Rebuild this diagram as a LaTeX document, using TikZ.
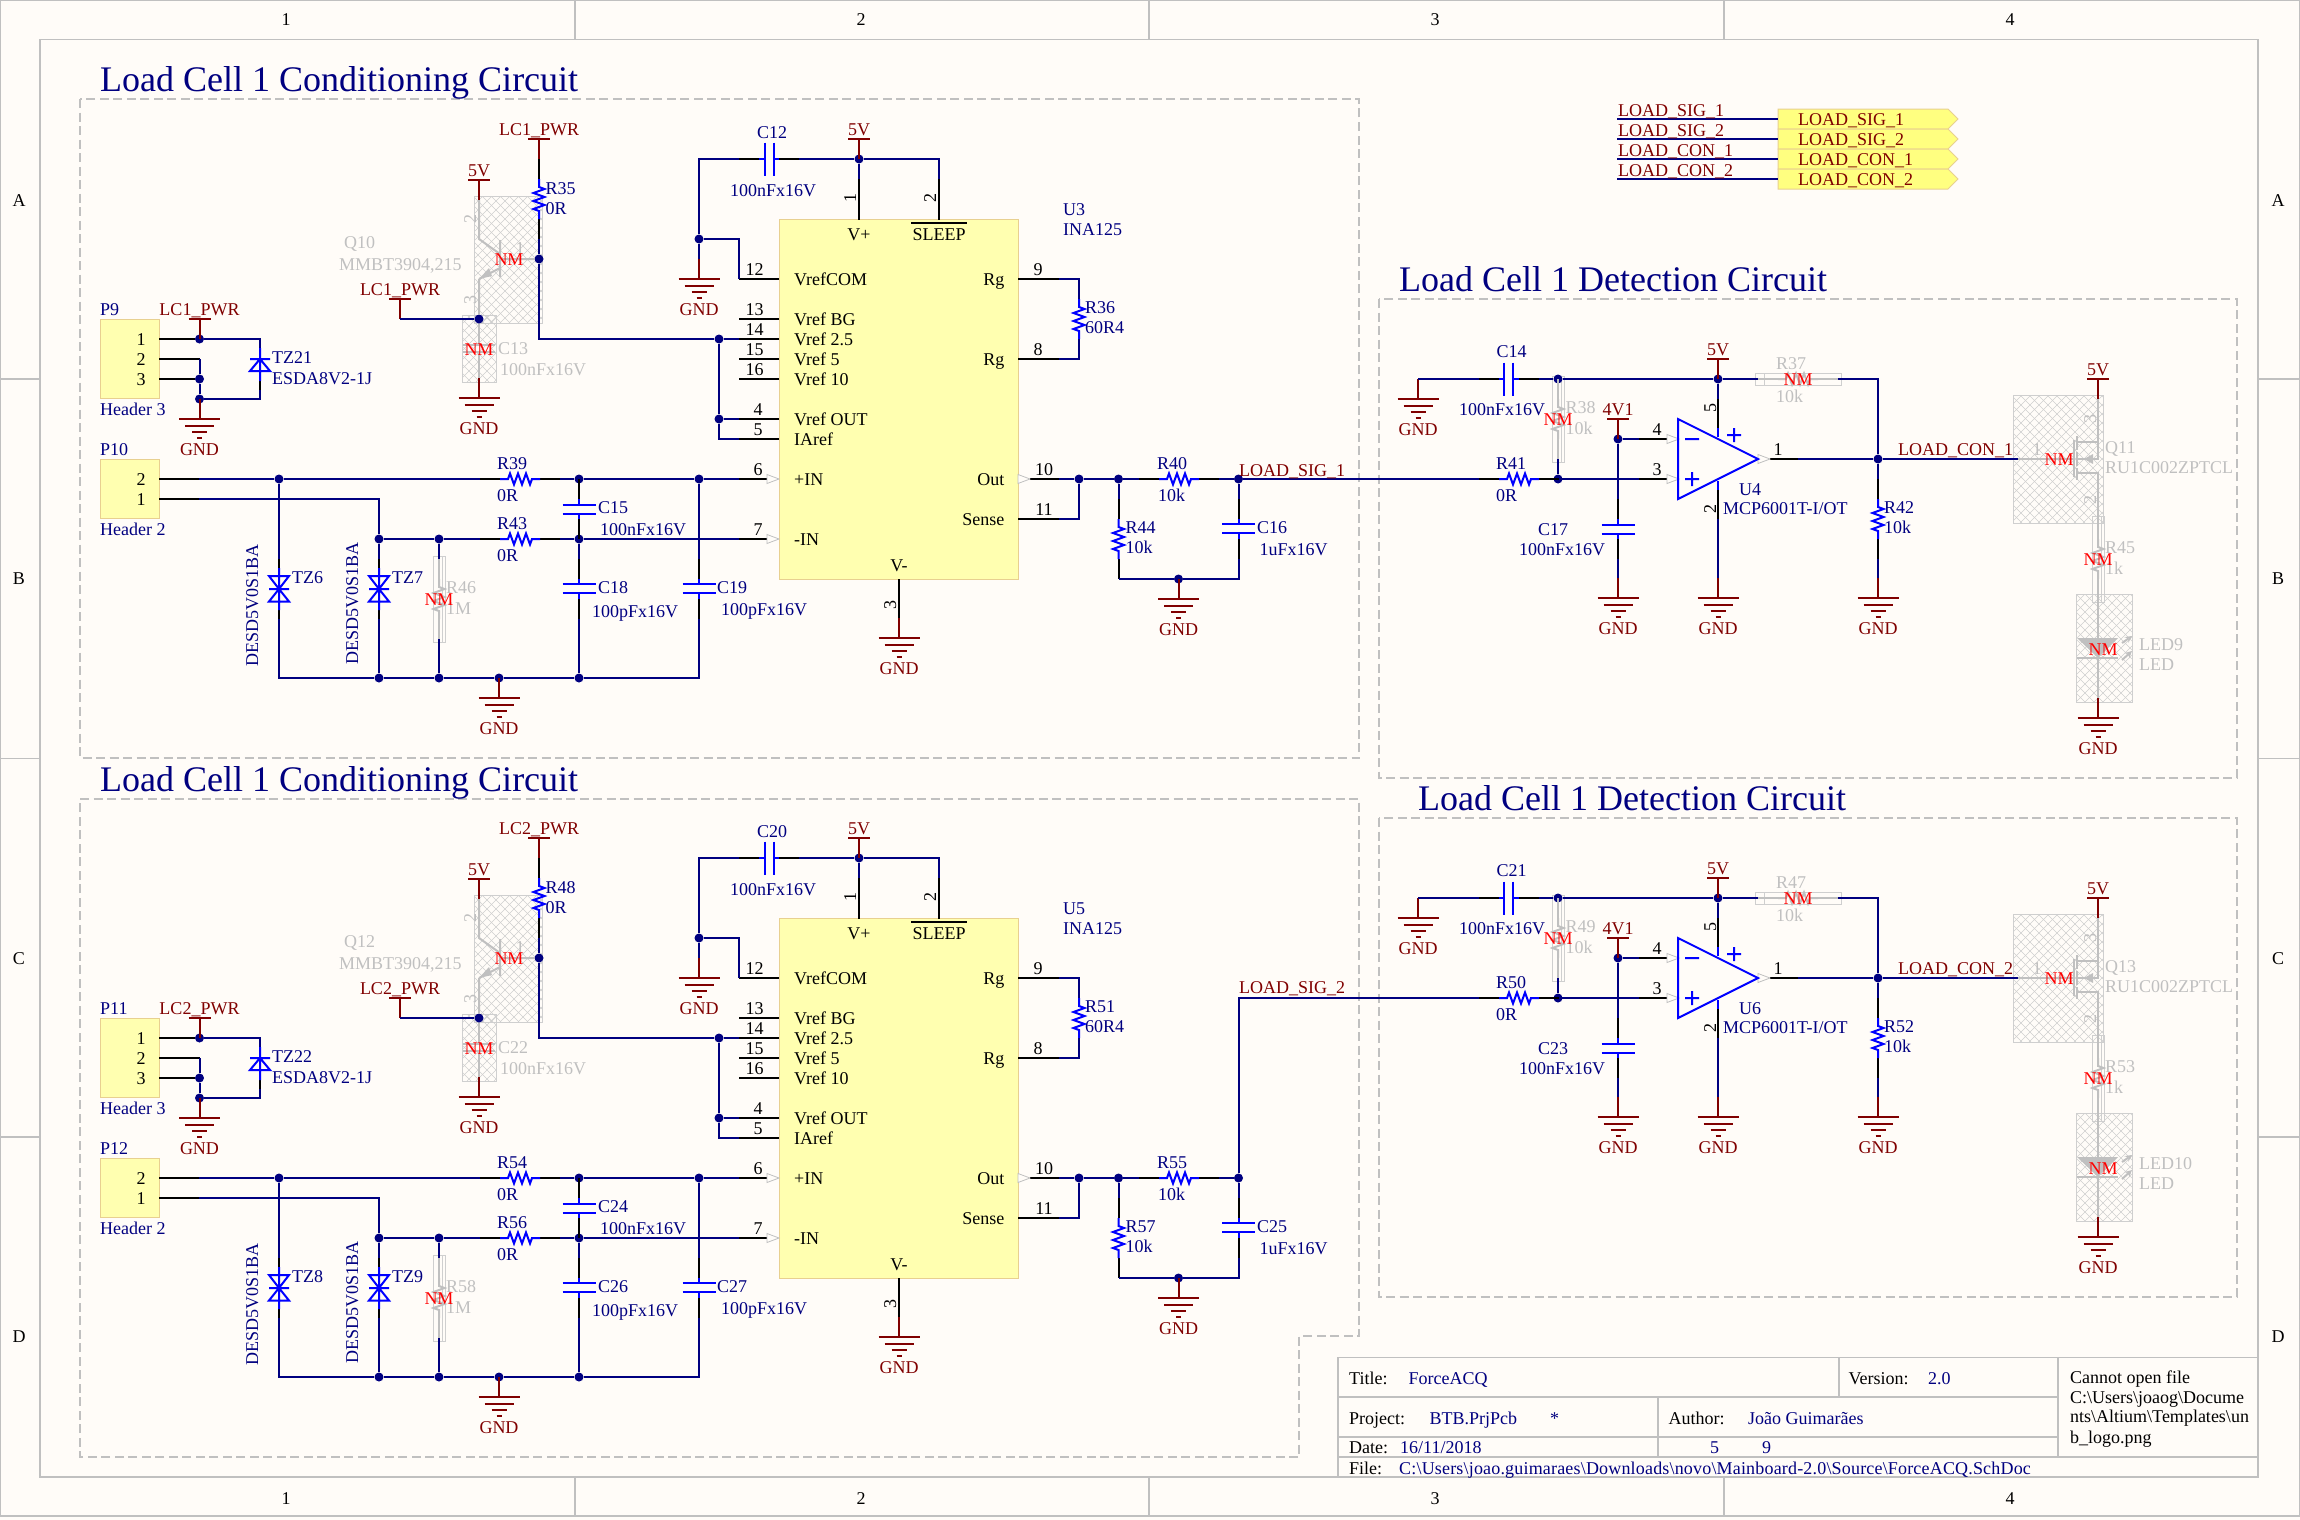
\documentclass[tikz,border=0pt]{standalone}
\usepackage{fontspec}
\setmainfont{Liberation Serif}
\pgfdeclarelayer{hatchlayer}
\pgfsetlayers{hatchlayer,main}
\definecolor{bgc}{HTML}{FFFCF8}
\definecolor{navyw}{HTML}{000080}
\definecolor{dred}{HTML}{800000}
\definecolor{blu}{HTML}{0000FF}
\definecolor{grl}{HTML}{C0C0C0}
\definecolor{hat}{HTML}{CFCFCF}
\definecolor{icf}{HTML}{FFFFB0}
\definecolor{ice}{HTML}{E8D090}
\definecolor{ptf}{HTML}{FFFF80}
\tikzset{
 wire/.style={navyw,line width=2pt},
 pinw/.style={black,line width=2pt},
 comp/.style={blu,line width=2pt},
 ngr/.style={grl,line width=2pt},
 prt/.style={dred,line width=2pt},
 frm/.style={grl,line width=1.2pt},
 dashbox/.style={grl,line width=2pt,dash pattern=on 9pt off 4.5pt},
 jdot/.style={circle,fill=navyw,inner sep=0pt,minimum size=9pt},
 txt/.style={inner sep=0pt,text height=12pt,text depth=0pt,font=\fontsize{18}{20}\selectfont,anchor=west},
 nv/.style={txt,text=navyw},
 rd/.style={txt,text=dred},
 kb/.style={txt,text=black},
 gy/.style={txt,text=grl},
 nmk/.style={txt,text=red,anchor=center},
 ac/.style={anchor=center},
 ae/.style={anchor=east},
 rot/.style={rotate=90,anchor=center},
 ttl/.style={inner sep=0pt,text=navyw,font=\fontsize{36}{40}\selectfont,anchor=base west},
 icbox/.style={fill=icf,draw=ice,line width=1pt},
 portbox/.style={fill=ptf,draw=ice,line width=1pt},
 hatl/.style={hat,line width=.6pt},
 hatb/.style={hat,line width=1pt},
 trimark/.style={grl,line width=.8pt,fill=bgc}
}
\newcounter{tc}
\newcommand\lbl[4]{\stepcounter{tc}\node[#1] (t\arabic{tc}) at (#2,#3) {#4};}
\newcommand\junc[3]{\node[jdot] (#1) at (#2,#3) {};}
\newcommand\pwrport[4]{\coordinate (#1) at (#2,#3+20);
 \draw[prt] (#2-11,#3)--(#2+11,#3) (#2,#3)--(#2,#3+20);
 \lbl{rd,ac}{#2}{#3-9.5}{#4}}
\newcommand\gndsym[3]{\coordinate (#1) at (#2,#3-20);
 \draw[prt] (#2,#3-20)--(#2,#3) (#2-20.5,#3)--(#2+20.5,#3) (#2-14.5,#3+6.5)--(#2+14.5,#3+6.5) (#2-7.5,#3+13)--(#2+7.5,#3+13) (#2-2.5,#3+19)--(#2+2.5,#3+19);
 \lbl{rd,ac}{#2}{#3+30.3}{GND}}
\newcommand\zigV[1]{\draw[#1] (0,-20)--(0,-12)--(5.5,-10)--(-5.5,-6)--(5.5,-2)--(-5.5,2)--(5.5,6)--(-5.5,10)--(0,12)--(0,20);}
\newcommand\zigH[1]{\draw[#1] (-20,0)--(-12,0)--(-10,-5.5)--(-6,5.5)--(-2,-5.5)--(2,5.5)--(6,-5.5)--(10,5.5)--(12,0)--(20,0);}
\newcommand\resV[3]{\begin{scope}[shift={(#2,#3)}]
 \coordinate (#1-t) at (0,-40);\coordinate (#1-b) at (0,40);\coordinate (#1-ti) at (0,-20);\coordinate (#1-bi) at (0,20);
 \draw[pinw] (0,-40)--(0,-20) (0,20)--(0,40);\zigV{comp}\end{scope}}
\newcommand\resH[3]{\begin{scope}[shift={(#2,#3)}]
 \coordinate (#1-l) at (-40,0);\coordinate (#1-r) at (40,0);
 \draw[pinw] (-40,0)--(-20,0) (20,0)--(40,0);\zigH{comp}\end{scope}}
\newcommand\hatchbox[4]{\begin{pgfonlayer}{hatchlayer}\begin{scope}\clip (#1,#2) rectangle (#3,#4);
 \pgfmathsetmacro\hh{#4-#2}\pgfmathtruncatemacro\nn{(#3-#1+\hh)/9+1}
 \foreach \i in {0,...,\nn}{\pgfmathsetmacro\kx{#1-\hh+9*\i}\pgfmathsetmacro\ky{#1+9*\i}
 \draw[hatl] (\kx,#2)--(\kx+\hh,#4) (\ky,#2)--(\ky-\hh,#4);}
 \end{scope}\draw[hatb] (#1,#2) rectangle (#3,#4);\end{pgfonlayer}}
\newcommand\resVg[3]{\hatchbox{#2-6}{#3-43}{#2+6}{#3+43}\begin{scope}[shift={(#2,#3)}]
 \coordinate (#1-t) at (0,-40);\coordinate (#1-b) at (0,40);
 \draw[ngr] (0,-40)--(0,-20) (0,20)--(0,40);\zigV{ngr}\end{scope}}
\newcommand\resHg[3]{\hatchbox{#2-43}{#3-6}{#2+43}{#3+6}\begin{scope}[shift={(#2,#3)}]
 \coordinate (#1-l) at (-40,0);\coordinate (#1-r) at (40,0);
 \draw[ngr] (-40,0)--(-20,0) (20,0)--(40,0);\zigH{ngr}\end{scope}}
\newcommand\capV[3]{\begin{scope}[shift={(#2,#3)}]
 \coordinate (#1-t) at (0,-30);\coordinate (#1-b) at (0,30);
 \draw[pinw] (0,-30)--(0,-10) (0,10)--(0,30);
 \draw[comp] (0,-10)--(0,-4.5) (0,4.5)--(0,10) (-16.5,-4.5)--(16.5,-4.5) (-16.5,4.5)--(16.5,4.5);\end{scope}}
\newcommand\capH[3]{\begin{scope}[shift={(#2,#3)}]
 \coordinate (#1-l) at (-30,0);\coordinate (#1-r) at (30,0);
 \draw[pinw] (-30,0)--(-10,0) (10,0)--(30,0);
 \draw[comp] (-10,0)--(-4.5,0) (4.5,0)--(10,0) (-4.5,-16.5)--(-4.5,16.5) (4.5,-16.5)--(4.5,16.5);\end{scope}}
\newcommand\bidiode[3]{\begin{scope}[shift={(#2,#3)}]
 \coordinate (#1-t) at (0,-30);\coordinate (#1-b) at (0,30);
 \draw[pinw] (0,-30)--(0,-21) (0,21)--(0,30);
 \draw[comp] (0,-21)--(0,21) (-10,0)--(10,0) (0,0)--(-10,-13)--(10,-13)--cycle (0,0)--(-10,12.5)--(10,12.5)--cycle;\end{scope}}
\newcommand\pintri[2]{\draw[trimark] (#1,#2-4.5)--(#1+12,#2)--(#1,#2+4.5)--cycle;}
\newcommand\pinL[4]{\coordinate (#1) at (739,#2);\draw[pinw] (739,#2)--(779,#2);\lbl{kb,ac}{#4}{#2-9.5}{#3}}
% ---------------- conditioning circuit
\newcommand\condcirc{%
 \lbl{ttl}{100}{92}{Load Cell 1 Conditioning Circuit}
 \junc{jq}{539}{259}\junc{jct}{479}{319}\junc{jpa}{199.5}{339}\junc{jpb}{199.5}{379}\junc{jpc}{199.5}{399}
 \junc{ja}{279}{479}\junc{jb}{379}{539}\junc{jc}{439}{539}\junc{jd}{579}{479}\junc{je}{579}{539}\junc{jf}{699}{479}
 \junc{jg}{379}{678}\junc{jh}{439}{678}\junc{ji}{499}{678}\junc{jk}{579}{678}
 \junc{jl}{859}{159}\junc{jm}{699}{239}\junc{jn}{719}{339}\junc{jo}{719}{419}
 \junc{jp}{1079}{479}\junc{jr}{1118.5}{479}\junc{js}{1238.5}{479}\junc{ju}{1178.5}{579}
 % Q and C hatch
 \hatchbox{474}{196}{542}{323}\hatchbox{462}{315}{496}{382}
 \pwrport{pwA}{539}{139}{\lPwr}\pwrport{pwB}{479}{180}{5V}\pwrport{pwC}{400}{299}{\lPwr}\pwrport{pwD}{199.5}{319}{\lPwr}\pwrport{pwE}{859}{139}{5V}
 \resV{RA}{539}{199}\lbl{nv}{545.5}{188}{\lRa}\lbl{nv}{545.5}{208}{0R}
 \gndsym{gA}{479}{398}\gndsym{gB}{199.5}{419}\gndsym{gC}{499}{698}\gndsym{gD}{699}{279}\gndsym{gE}{899}{638}\gndsym{gF}{1178.5}{599}
 % transistor, not mounted
 \draw[ngr] (pwB)--(479,239)--(500,254) (500,240)--(500,277) (500,268)--(479,279) (jq)--(500,259) (479,279)--(jct);
 \fill[grl] (479,279)--(489,268)--(492,276)--cycle;
 \draw[ngr] (jct)--(479,345) (463,345)--(495,345) (463,352)--(495,352) (479,352)--(gA);
 \lbl{gy,rot}{470}{219}{2}\lbl{gy,rot}{470}{300}{3}\lbl{gy,ac}{520}{248}{1}
 \lbl{gy}{344}{242}{\lQ}\lbl{gy}{339}{264}{MMBT3904,215}
 \lbl{gy}{498}{348}{\lCt}\lbl{gy}{500}{369}{100nFx16V}
 \lbl{nmk}{509}{259}{NM}\lbl{nmk}{479}{349}{NM}
 % header 3
 \draw[icbox] (100,319) rectangle (159,398);
 \coordinate (hA) at (159,339);\coordinate (hB) at (159,359);\coordinate (hC) at (159,379);\coordinate (hBe) at (199.5,359);
 \draw[pinw] (hA)--(jpa) (hB)--(hBe) (hC)--(jpb);
 \lbl{kb,ac}{141}{339}{1}\lbl{kb,ac}{141}{359}{2}\lbl{kb,ac}{141}{379}{3}
 \lbl{nv}{100}{309}{\lPa}\lbl{nv}{100}{409}{Header 3}\lbl{nv}{100}{449}{\lPb}
 \lbl{nv}{272}{357}{\lTa}\lbl{nv}{272}{378}{ESDA8V2-1J}
 \coordinate (tzT) at (260,339);\coordinate (tzB) at (260,390);
 \draw[pinw] (260,381)--(tzB);
 \draw[comp] (260,348)--(260,381) (250,359)--(270,359) (260,359)--(270,371)--(250,371)--cycle;
 \draw[wire] (jpa)--(tzT)--(260,348) (hBe)--(jpb) (jpb)--(jpc) (jpc)-|(tzB) (jpc)--(gB);
 % header 2
 \draw[icbox] (100,459) rectangle (159,518);
 \coordinate (hD) at (159,479);\coordinate (hE) at (159,499);\coordinate (hDe) at (199,479);\coordinate (hEe) at (199,499);
 \draw[pinw] (hD)--(hDe) (hE)--(hEe);
 \lbl{kb,ac}{141}{479}{2}\lbl{kb,ac}{141}{499}{1}\lbl{nv}{100}{529}{Header 2}
 \resH{RB}{520}{479}\resH{RC}{520}{539}
 \lbl{nv}{497}{463}{\lRb}\lbl{nv}{497}{495}{0R}\lbl{nv}{497}{523}{\lRc}\lbl{nv}{497}{555}{0R}
 \bidiode{DA}{279}{589}\bidiode{DB}{379}{589}
 \lbl{nv}{292}{577}{\lDa}\lbl{nv}{392}{577}{\lDb}
 \lbl{nv,rot}{252}{605}{DESD5V0S1BA}\lbl{nv,rot}{352}{603}{DESD5V0S1BA}
 \resVg{RD}{439}{599}
 \lbl{gy}{446}{587}{\lRd}\lbl{gy}{446}{608}{1M}\lbl{nmk}{439}{599}{NM}
 \capV{CA}{579}{509}\capV{CB}{579}{588.5}\capV{CC}{699}{588.5}
 \lbl{nv}{598}{507}{\lCa}\lbl{nv}{600}{529}{100nFx16V}
 \lbl{nv}{598}{587}{\lCb}\lbl{nv}{592}{611}{100pFx16V}
 \lbl{nv}{717}{587}{\lCc}\lbl{nv}{721}{609}{100pFx16V}
 % IC
 \draw[icbox] (779.5,219.5) rectangle (1018,579);
 \coordinate (pVp) at (859,179);\coordinate (pSl) at (939,179);
 \draw[pinw] (pVp)--(859,219.5) (pSl)--(939,219.5) (899,579)--(899,618);
 \lbl{kb,rot}{850}{198}{1}\lbl{kb,rot}{930}{198}{2}\lbl{kb,rot}{890}{605}{3}
 \lbl{kb,ac}{859}{234}{V+}\lbl{kb,ac}{939}{234}{SLEEP}\draw[pinw] (911,223)--(967,223);\lbl{kb,ac}{899}{565}{V-}
 \pinL{pA}{279}{12}{754.5}\pinL{pB}{319}{13}{754.5}\pinL{pC}{339}{14}{754.5}\pinL{pD}{359}{15}{754.5}\pinL{pE}{379}{16}{754.5}
 \pinL{pF}{419}{4}{758}\pinL{pG}{439}{5}{758}
 \coordinate (pH) at (739,479);\coordinate (pI) at (739,539);
 \draw[pinw] (pH)--(767,479) (pI)--(767,539);\pintri{767}{479}\pintri{767}{539}
 \lbl{kb,ac}{758}{469.5}{6}\lbl{kb,ac}{758}{529.5}{7}
 \lbl{kb}{794}{279}{VrefCOM}\lbl{kb}{794}{319}{Vref BG}\lbl{kb}{794}{339}{Vref 2.5}\lbl{kb}{794}{359}{Vref 5}\lbl{kb}{794}{379}{Vref 10}
 \lbl{kb}{794}{419}{Vref OUT}\lbl{kb}{794}{439}{IAref}\lbl{kb}{794}{479}{+IN}\lbl{kb}{794}{539}{-IN}
 \lbl{kb,ae}{1004.5}{279}{Rg}\lbl{kb,ae}{1004.5}{359}{Rg}\lbl{kb,ae}{1004.5}{479}{Out}\lbl{kb,ae}{1004.5}{519}{Sense}
 \coordinate (pJ) at (1059,279);\coordinate (pK) at (1059,359);\coordinate (pL) at (1059,479);\coordinate (pM) at (1059,519);
 \draw[pinw] (1018,279)--(pJ) (1018,359)--(pK) (1030,479)--(pL) (1018,519)--(pM);\pintri{1018}{479}
 \lbl{kb,ac}{1038}{269.5}{9}\lbl{kb,ac}{1038}{349.5}{8}\lbl{kb,ac}{1044}{469.5}{10}\lbl{kb,ac}{1044}{509.5}{11}
 \lbl{nv}{1063}{209.5}{\lU}\lbl{nv}{1063}{229.5}{INA125}
 \capH{CD}{769}{159}\lbl{nv,ac}{772}{132}{\lCd}\lbl{nv,ac}{773}{190}{100nFx16V}
 \resV{RE}{1079}{319}\lbl{nv}{1085}{307.5}{\lRe}\lbl{nv}{1085}{327}{60R4}
 \resH{RF}{1179}{479}\lbl{nv,ac}{1172}{463}{\lRf}\lbl{nv}{1158}{495}{10k}
 \resV{RG}{1118.5}{539}\lbl{nv}{1125.5}{527}{\lRg}\lbl{nv}{1125.5}{547}{10k}
 \capV{CE}{1238.5}{528.5}\lbl{nv}{1257}{527}{\lCe}\lbl{nv}{1259.5}{549}{1uFx16V}
 % wires
 \draw[wire] (RA-b)--(jq) (jq)|-(jn) (jn)--(pC);
 \draw[wire] (pwC)|-(jct);
 \draw[wire] (hDe)--(ja) (ja)--(RB-l) (RB-r)--(jd) (jd)--(jf) (jf)--(pH);
 \draw[wire] (hEe)-|(jb) (jb)--(jc) (jc)--(RC-l) (RC-r)--(je) (je)--(pI);
 \draw[wire] (ja)--(DA-t) (DA-b)|-(jg) (jb)--(DB-t) (DB-b)--(jg) (jc)--(RD-t) (RD-b)--(jh);
 \draw[wire] (jg)--(jh) (jh)--(ji) (ji)--(jk) (jk)-|(CC-b);
 \draw[wire] (je)--(CB-t) (CB-b)--(jk) (jf)--(CC-t) (ji)--(gC);
 \draw[wire] (jm)|-(CD-l) (CD-r)--(jl) (jl)--(pVp) (jl)-|(pSl) (jm)--(gD) (jm)-|(pA) (jn)--(jo) (jo)|-(pG) (jo)--(pF);
 \draw[wire] (pJ)-|(RE-ti) (pK)-|(RE-bi);
 \draw[wire] (pL)--(jp) (jp)--(jr) (jr)--(RF-l) (RF-r)--(js) (pM)-|(jp);
 \draw[wire] (jr)--(RG-t) (RG-b)--(ju) (ju)-|(CE-b) (js)--(CE-t);
}
% ---------------- detection circuit
\newcommand\detcirc{%
 \junc{ja}{1558}{379}\junc{jb}{1718}{379}\junc{jc}{1558}{479}\junc{jd}{1618}{439}\junc{je}{1878}{459}
 \gndsym{gA}{1418}{399}\gndsym{gB}{1618}{598}\gndsym{gC}{1718}{598}\gndsym{gD}{1878}{598}\gndsym{gE}{2098}{718}
 \capH{CA}{1508.5}{379}\lbl{nv,ac}{1511.5}{351}{\lCa}\lbl{nv}{1459}{409}{100nFx16V}
 \resH{RA}{1519}{479}\lbl{nv}{1496}{463}{\lRa}\lbl{nv}{1496}{495}{0R}
 \resVg{RB}{1558}{419}\lbl{gy}{1565.5}{407}{\lRb}\lbl{gy}{1565.5}{428}{10k}\lbl{nmk}{1558}{419}{NM}
 \resHg{RC}{1798}{379}\lbl{gy}{1776}{363}{\lRc}\lbl{gy}{1776}{396}{10k}\lbl{nmk}{1798}{379}{NM}
 \pwrport{pwA}{1718}{359}{5V}\pwrport{pwB}{1618}{419}{4V1}\pwrport{pwC}{2098}{379}{5V}
 \capV{CB}{1618}{529}\lbl{nv,ac}{1553}{529}{\lCb}\lbl{nv}{1519}{549}{100nFx16V}
 \resV{RD}{1878}{519}\lbl{nv}{1884}{507}{\lRd}\lbl{nv}{1884}{527}{10k}
 % op amp
 \coordinate (uM) at (1639,439);\coordinate (uP) at (1639,479);\coordinate (uVp) at (1718,399);\coordinate (uVn) at (1718,519);\coordinate (uO) at (1798,459);
 \draw[pinw] (uM)--(1667,439) (uP)--(1667,479) (uVp)--(1718,428) (1718,490)--(uVn) (1770,459)--(uO);
 \pintri{1667}{439}\pintri{1667}{479}\pintri{1758}{459}
 \draw[comp] (1718,428)--(1718,437) (1718,481)--(1718,490);
 \draw[comp] (1678,419)--(1758,459)--(1678,499)--cycle (1685,439)--(1699,439) (1685,479)--(1699,479) (1692,472)--(1692,486) (1727,435)--(1741,435) (1734,428)--(1734,442);
 \lbl{kb,ac}{1657}{429.5}{4}\lbl{kb,ac}{1657}{469.5}{3}\lbl{kb,ac}{1778}{449.5}{1}\lbl{kb,rot}{1710}{408}{5}\lbl{kb,rot}{1710}{509}{2}
 \lbl{nv}{1739}{489}{\lU}\lbl{nv}{1723}{508}{MCP6001T-I/OT}
 \lbl{rd}{1898}{449}{\lCon}
 % mosfet, resistor and LED, not mounted
 \hatchbox{2013}{395}{2103}{523}\hatchbox{2076}{594}{2132}{702}\resVg{RE}{2098}{559}
 \coordinate (qG) at (2018,459);
 \draw[ngr] (qG)--(2074,459) (2074,440)--(2074,477) (2077,436)--(2077,450) (2077,452)--(2077,466) (2077,468)--(2077,480);
 \draw[ngr] (pwC)--(2098,459)--(2077,459) (2098,442)--(2077,442) (2077,473)--(2098,473)--(RE-t);
 \fill[grl] (2084,459)--(2093,454)--(2093,464)--cycle;
 \draw[ngr] (RE-b)--(2098,638) (2077,658)--(2118,658) (2098,658)--(gE);
 \fill[grl] (2077,638)--(2118,638)--(2098,658)--cycle;
 \draw[ngr,-stealth] (2122,643)--(2132,636);\draw[ngr,-stealth] (2122,660)--(2132,651);
 \lbl{gy,rot}{2090}{419}{3}\lbl{gy,ac}{2037}{449}{1}\lbl{gy,rot}{2090}{500}{2}
 \lbl{gy}{2105}{447}{\lQ}\lbl{gy}{2105}{467}{RU1C002ZPTCL}
 \lbl{gy}{2105}{547}{\lRe}\lbl{gy}{2105}{568}{1k}
 \lbl{gy}{2139}{644}{\lLed}\lbl{gy}{2139}{664.5}{LED}
 \lbl{nmk}{2059}{459}{NM}\lbl{nmk}{2098}{559}{NM}\lbl{nmk}{2103}{649}{NM}
 % wires
 \draw[wire] (gA)--(CA-l) (CA-r)--(ja) (ja)--(jb) (jb)--(RC-l) (RC-r)-|(je);
 \draw[wire] (ja)--(RB-t) (RB-b)--(jc) (RA-r)--(jc) (jc)--(uP);
 \draw[wire] (jd)--(uM) (jd)--(CB-t) (CB-b)--(gB);
 \draw[wire] (jb)--(uVp) (uVn)--(gC);
 \draw[wire] (uO)--(je) (je)--(RD-t) (RD-b)--(gD) (je)--(qG);
}
\begin{document}
\begin{tikzpicture}[x=1pt,y=-1pt,line join=miter]
\useasboundingbox (0,0) rectangle (2300,1520);
\begin{pgfonlayer}{hatchlayer}
\fill[bgc] (0,0) rectangle (2300,1520);
\end{pgfonlayer}
% sheet frame
\draw[frm] (0.5,0.5) rectangle (2299.5,1516);
\draw[frm] (40,39.5) rectangle (2258,1477);
\draw[frm] (575,0.5)--(575,39.5) (1149,0.5)--(1149,39.5) (1724,0.5)--(1724,39.5) (575,1477)--(575,1516) (1149,1477)--(1149,1516) (1724,1477)--(1724,1516);
\draw[frm] (0.5,379)--(40,379) (0.5,758.5)--(40,758.5) (0.5,1137)--(40,1137) (2258,379)--(2299.5,379) (2258,758.5)--(2299.5,758.5) (2258,1137)--(2299.5,1137);
\foreach \tx/\tn in {286/1,861/2,1435/3,2010/4}{\lbl{kb,ac}{\tx}{20}{\tn}\lbl{kb,ac}{\tx}{1498}{\tn}}
\foreach \ty/\tn in {200/A,578/B,958/C,1336/D}{\lbl{kb,ac}{19}{\ty}{\tn}\lbl{kb,ac}{2278}{\ty}{\tn}}
% dashed regions
\draw[dashbox] (80,99) rectangle (1359,758);
\draw[dashbox] (80,799)--(1359,799)--(1359,1336)--(1299,1336)--(1299,1457)--(80,1457)--cycle;
\draw[dashbox] (1378.5,299) rectangle (2237,777.5);
\draw[dashbox] (1378.5,818) rectangle (2237,1296.5);
% block A
\begin{scope}[name prefix=A-]
\def\lPwr{LC1\_PWR}\def\lRa{R35}\def\lQ{Q10}\def\lCt{C13}\def\lPa{P9}\def\lPb{P10}\def\lTa{TZ21}\def\lRb{R39}\def\lRc{R43}\def\lDa{TZ6}\def\lDb{TZ7}\def\lRd{R46}\def\lCa{C15}\def\lCb{C18}\def\lCc{C19}\def\lCd{C12}\def\lU{U3}\def\lRe{R36}\def\lRf{R40}\def\lRg{R44}\def\lCe{C16}
\condcirc
\end{scope}
% block B
\begin{scope}[name prefix=B-,shift={(0,699)}]
\def\lPwr{LC2\_PWR}\def\lRa{R48}\def\lQ{Q12}\def\lCt{C22}\def\lPa{P11}\def\lPb{P12}\def\lTa{TZ22}\def\lRb{R54}\def\lRc{R56}\def\lDa{TZ8}\def\lDb{TZ9}\def\lRd{R58}\def\lCa{C24}\def\lCb{C26}\def\lCc{C27}\def\lCd{C20}\def\lU{U5}\def\lRe{R51}\def\lRf{R55}\def\lRg{R57}\def\lCe{C25}
\condcirc
\end{scope}
% block D
\lbl{ttl}{1399}{291}{Load Cell 1 Detection Circuit}
\begin{scope}[name prefix=D-]
\def\lCa{C14}\def\lRa{R41}\def\lRb{R38}\def\lRc{R37}\def\lCb{C17}\def\lRd{R42}\def\lU{U4}\def\lCon{LOAD\_CON\_1}\def\lQ{Q11}\def\lRe{R45}\def\lLed{LED9}
\detcirc
\end{scope}
% block E
\lbl{ttl}{1418}{810}{Load Cell 1 Detection Circuit}
\begin{scope}[name prefix=E-,shift={(0,519)}]
\def\lCa{C21}\def\lRa{R50}\def\lRb{R49}\def\lRc{R47}\def\lCb{C23}\def\lRd{R52}\def\lU{U6}\def\lCon{LOAD\_CON\_2}\def\lQ{Q13}\def\lRe{R53}\def\lLed{LED10}
\detcirc
\end{scope}
\draw[wire] (A-js)--(D-RA-l);
\draw[wire] (B-js)|-(E-RA-l);
\lbl{rd}{1239}{470}{LOAD\_SIG\_1}
\lbl{rd}{1239}{987}{LOAD\_SIG\_2}
% off-sheet ports
\foreach \py/\pn/\pt in {109/a/LOAD\_SIG\_1,129/b/LOAD\_SIG\_2,149/c/LOAD\_CON\_1,169/d/LOAD\_CON\_2}{
 \draw[portbox] (1778,\py)--(1948,\py)--(1958,\py+10)--(1948,\py+20)--(1778,\py+20)--cycle;
 \coordinate (port\pn) at (1778,\py+10);\coordinate (net\pn) at (1617,\py+10);
 \draw[wire] (net\pn)--(port\pn);
 \lbl{rd}{1618}{\py+1}{\pt}\lbl{rd}{1798}{\py+10}{\pt}}
% title block
\draw[frm] (1338,1357.5) rectangle (2258,1477);
\draw[frm] (1338,1397)--(2058,1397) (2058,1357.5)--(2058,1457) (1338,1437)--(2058,1437) (1338,1457)--(2258,1457) (1839,1357.5)--(1839,1397) (1658,1397)--(1658,1457);
\lbl{kb}{1349}{1378}{Title:}\lbl{nv}{1408.5}{1378}{ForceACQ}
\lbl{kb}{1848.5}{1378}{Version:}\lbl{nv}{1928}{1378}{2.0}
\lbl{kb}{1349}{1418}{Project:}\lbl{nv}{1429.5}{1418}{BTB.PrjPcb}\lbl{nv}{1550}{1418}{*}
\lbl{kb}{1668.5}{1418}{Author:}\lbl{nv}{1748}{1418}{João Guimarães}
\lbl{kb}{1349}{1447.5}{Date:}\lbl{nv}{1400}{1447.5}{16/11/2018}\lbl{nv}{1710}{1447.5}{5}\lbl{nv}{1762}{1447.5}{9}
\lbl{kb}{1349}{1468}{File:}\lbl{nv}{1399}{1468}{\addfontfeature{LetterSpace=1}C:\textbackslash Users\textbackslash joao.guimaraes\textbackslash Downloads\textbackslash novo\textbackslash Mainboard-2.0\textbackslash Source\textbackslash ForceACQ.SchDoc}
\lbl{kb}{2070}{1377}{Cannot open file}
\lbl{kb}{2070}{1397}{C:\textbackslash Users\textbackslash joaog\textbackslash Docume}
\lbl{kb}{2070}{1416}{nts\textbackslash Altium\textbackslash Templates\textbackslash un}
\lbl{kb}{2070}{1437}{b\_logo.png}
\end{tikzpicture}
\end{document}
